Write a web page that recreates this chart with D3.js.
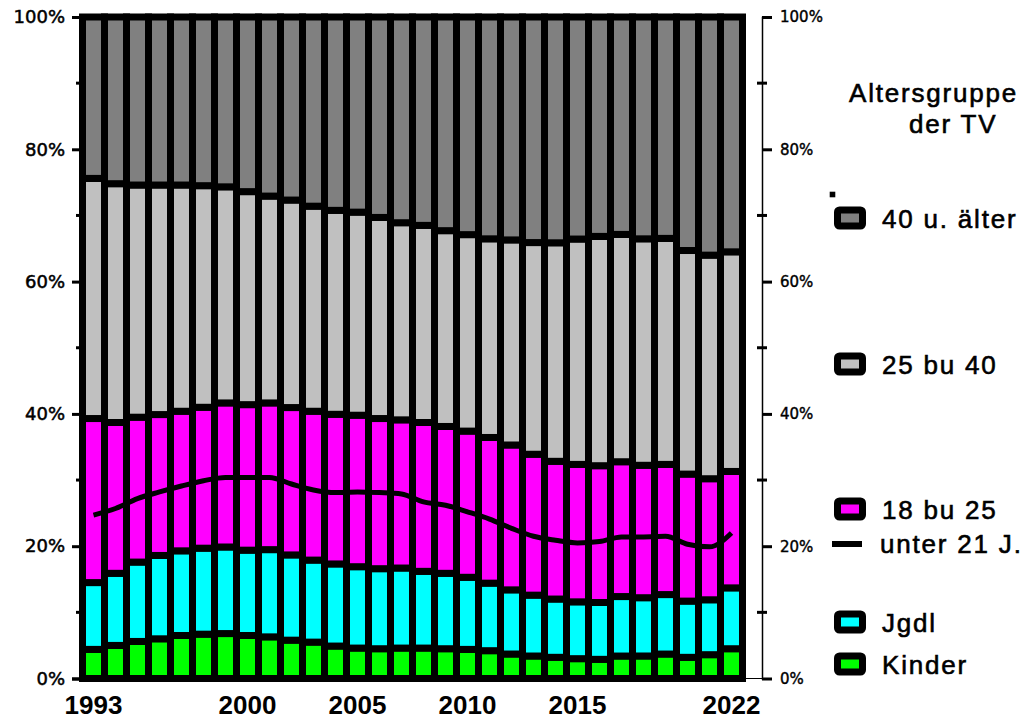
<!DOCTYPE html>
<html>
<head>
<meta charset="utf-8">
<script src="https://cdn.jsdelivr.net/npm/d3@7"></script>
<style>
  body { margin: 0; background: #fff; }
  svg { display: block; }
</style>
</head>
<body>
<script>
// years on the x-axis
var years = [1993, 1994, 1995, 1996, 1997, 1998, 1999, 2000, 2001, 2002,
             2003, 2004, 2005, 2006, 2007, 2008, 2009, 2010, 2011, 2012,
             2013, 2014, 2015, 2016, 2017, 2018, 2019, 2020, 2021, 2022];

// share per age group (percent), bottom to top
var kinder = [4.4, 5.0, 5.6, 6.0, 6.5, 6.7, 6.8, 6.5, 6.3, 5.8,
              5.5, 4.9, 4.6, 4.5, 4.6, 4.6, 4.5, 4.4, 4.2, 3.7,
              3.4, 3.2, 3.0, 2.9, 3.4, 3.4, 3.7, 3.2, 3.6, 4.5];
var jgdl = [10.1, 10.9, 12.0, 12.6, 12.8, 13.0, 13.1, 12.9, 13.2, 12.9,
            12.4, 12.4, 12.3, 12.1, 12.1, 11.6, 11.4, 10.9, 10.2, 9.7,
            9.2, 8.8, 8.6, 8.6, 9.0, 8.8, 9.0, 8.5, 8.3, 9.2];
var age18to25 = [24.8, 22.8, 21.9, 21.3, 21.1, 21.3, 21.8, 22.0, 22.2, 22.3,
                 22.5, 22.6, 22.9, 22.7, 22.4, 22.5, 22.2, 22.1, 22.0, 21.9,
                 21.3, 20.8, 20.8, 20.7, 20.4, 20.0, 19.7, 19.2, 18.3, 17.6];
var age25to40 = [36.3, 36.1, 35.1, 34.7, 34.2, 33.5, 32.7, 32.2, 31.3, 31.4,
                 31.0, 30.8, 30.7, 30.4, 29.8, 29.8, 29.6, 29.7, 30.0, 31.0,
                 32.0, 33.0, 34.1, 34.7, 34.4, 34.2, 34.2, 33.8, 33.8, 33.2];
var age40plus = [24.4, 25.2, 25.4, 25.4, 25.4, 25.5, 25.7, 26.4, 27.1, 27.7,
                 28.6, 29.2, 29.5, 30.3, 31.1, 31.5, 32.3, 32.9, 33.5, 33.7,
                 34.1, 34.1, 33.6, 33.2, 32.9, 33.5, 33.5, 35.3, 36.0, 35.5];

// share of members under 21 (line)
var unter21 = [24.7, 25.7, 27.2, 28.2, 29.1, 29.9, 30.4, 30.4, 30.4, 29.4,
               28.5, 28.1, 28.2, 28.1, 27.9, 26.7, 26.2, 25.2, 24.1, 22.7,
               21.5, 20.9, 20.5, 20.7, 21.4, 21.4, 21.5, 20.3, 19.9, 22.0];

// legend + tick labels
var seriesKeys = ["kinder", "jgdl", "a1825", "a2540", "a40"];
var seriesNames = ["Kinder", "Jgdl", "18 bu 25", "25 bu 40", "40 u. älter"];
var seriesColors = ["#00ff00", "#00ffff", "#ff00ff", "#c0c0c0", "#808080"];
var yearLabels = [1993, 2000, 2005, 2010, 2015, 2022];
var percentTicks = [0, 20, 40, 60, 80, 100];
var minorTicks = [10, 30, 50, 70, 90];

var w = 1026;
var h = 719;
const margin = {top: 17, bottom: 40.5, left: 82.5, right: 283.5};
const barStroke = 7;

function drawChart() {
  var svg = d3.select("body")
              .append("svg")
              .attr("width", w)
              .attr("height", h);

  // build table for the stack
  var table = years.map(function(y, i) {
    return {year: y, kinder: kinder[i], jgdl: jgdl[i], a1825: age18to25[i],
            a2540: age25to40[i], a40: age40plus[i]};
  });
  var stack = d3.stack().keys(seriesKeys).offset(d3.stackOffsetExpand);
  var series = stack(table);

  var xScale = d3.scaleBand()
                 .domain(years)
                 .range([margin.left, w - margin.right])
                 .padding(0);

  var yScale = d3.scaleLinear()
                 .domain([0, 100])
                 .range([h - margin.bottom, margin.top]);

  // stacked bars, thick black outline makes the black frame
  svg.selectAll("g.layer")
     .data(series)
     .enter()
     .append("g")
     .attr("class", "layer")
     .attr("fill", function(d, i) { return seriesColors[i]; })
     .selectAll("rect")
     .data(function(d) { return d; })
     .enter()
     .append("rect")
     .attr("x", function(d) { return xScale(d.data.year); })
     .attr("width", xScale.bandwidth())
     .attr("y", function(d) { return yScale(d[1] * 100); })
     .attr("height", function(d) { return yScale(d[0] * 100) - yScale(d[1] * 100); })
     .attr("stroke", "#000")
     .attr("stroke-width", barStroke);

  // line for under 21
  var line = d3.line()
               .x(function(d, i) { return xScale(years[i]) + xScale.bandwidth() / 2; })
               .y(function(d) { return yScale(d); })
               .curve(d3.curveMonotoneX);

  svg.append("path")
     .datum(unter21)
     .attr("d", line)
     .attr("fill", "none")
     .attr("stroke", "#000")
     .attr("stroke-width", 5)
     .attr("stroke-linecap", "butt");

  // left axis
  var axisX = 80;
  var leftAxis = d3.axisLeft(yScale)
                   .tickValues(percentTicks)
                   .tickFormat(function(d) { return d + "%"; })
                   .tickSize(8)
                   .tickPadding(7);
  var gl = svg.append("g")
              .attr("transform", "translate(" + axisX + ",0)")
              .call(leftAxis);
  gl.select(".domain").attr("stroke-width", 3);
  gl.selectAll(".tick line").attr("stroke-width", 3);
  gl.selectAll(".tick text")
    .attr("font-family", "DejaVu Sans, Verdana, sans-serif")
    .attr("font-size", "18px")
    .attr("stroke", "#000")
    .attr("stroke-width", 0.5)
    .attr("fill", "#000");

  svg.append("g")
     .selectAll("line")
     .data(minorTicks)
     .enter()
     .append("line")
     .attr("x1", axisX - 4)
     .attr("x2", axisX + 4)
     .attr("y1", function(d) { return yScale(d); })
     .attr("y2", function(d) { return yScale(d); })
     .attr("stroke", "#000")
     .attr("stroke-width", 3);

  // bottom axis, only labels
  var xAxis = d3.axisBottom(xScale)
                .tickValues(yearLabels)
                .tickSize(0)
                .tickPadding(14);
  var gx = svg.append("g")
              .attr("transform", "translate(0," + (h - margin.bottom + 3) + ")")
              .call(xAxis);
  gx.select(".domain").remove();
  gx.selectAll(".tick text")
    .attr("font-family", "Liberation Sans, Arial, sans-serif")
    .attr("font-weight", "bold")
    .attr("font-size", "26px")
    .attr("fill", "#000");

  // thin baseline out to the right axis
  var rightX = 762;
  svg.append("line")
     .attr("x1", w - margin.right)
     .attr("x2", rightX)
     .attr("y1", yScale(0))
     .attr("y2", yScale(0))
     .attr("stroke", "#000")
     .attr("stroke-width", 1);

  // right axis
  var rightAxis = d3.axisRight(yScale)
                    .tickValues(percentTicks)
                    .tickFormat(function(d) { return d + "%"; })
                    .tickSize(10)
                    .tickPadding(8);
  var gr = svg.append("g")
              .attr("transform", "translate(" + rightX + ",0)")
              .call(rightAxis);
  gr.select(".domain").attr("stroke-width", 1.5);
  gr.selectAll(".tick line").attr("stroke-width", 3);
  gr.selectAll(".tick text")
    .attr("font-family", "DejaVu Sans, Verdana, sans-serif")
    .attr("font-size", "15px")
    .attr("stroke", "#000")
    .attr("stroke-width", 0.4)
    .attr("fill", "#000");

  svg.append("g")
     .selectAll("line")
     .data(minorTicks)
     .enter()
     .append("line")
     .attr("x1", rightX - 5)
     .attr("x2", rightX + 5)
     .attr("y1", function(d) { return yScale(d); })
     .attr("y2", function(d) { return yScale(d); })
     .attr("stroke", "#000")
     .attr("stroke-width", 3);

  drawLegend(svg);
}

function drawLegend(svg) {
  var font = "Liberation Sans, Arial, sans-serif";
  var legend = svg.append("g")
                  .attr("font-family", font)
                  .attr("font-size", "26px")
                  .attr("letter-spacing", "1.8px")
                  .attr("fill", "#000")
                  .attr("stroke", "#000")
                  .attr("stroke-width", 0.6);

  legend.append("text").attr("x", 849).attr("y", 102).text("Altersgruppe");
  legend.append("text").attr("x", 909).attr("y", 133).text("der TV");

  // small stray mark
  legend.append("rect")
        .attr("x", 830).attr("y", 192)
        .attr("width", 5).attr("height", 5)
        .attr("fill", "#000");

  // swatch positions (centre y), top to bottom: 40+, 25-40, 18-25, Jgdl, Kinder
  var rows = [
    {i: 4, cy: 218},
    {i: 3, cy: 364},
    {i: 2, cy: 509},
    {i: 1, cy: 622},
    {i: 0, cy: 664}
  ];

  rows.forEach(function(r) {
    legend.append("rect")
          .attr("x", 837.5)
          .attr("y", r.cy - 8)
          .attr("width", 25)
          .attr("height", 16)
          .attr("rx", 2)
          .attr("fill", seriesColors[r.i])
          .attr("stroke", "#000")
          .attr("stroke-width", 7)
          .attr("stroke-linejoin", "round");
    legend.append("text")
          .attr("x", 882)
          .attr("y", r.cy + 10)
          .text(seriesNames[r.i]);
  });

  // line entry
  legend.append("line")
        .attr("x1", 832).attr("x2", 862)
        .attr("y1", 544).attr("y2", 544)
        .attr("stroke", "#000")
        .attr("stroke-width", 6);
  legend.append("text")
        .attr("x", 880)
        .attr("y", 553)
        .text("unter 21 J.");
}

drawChart();
</script>
</body>
</html>
